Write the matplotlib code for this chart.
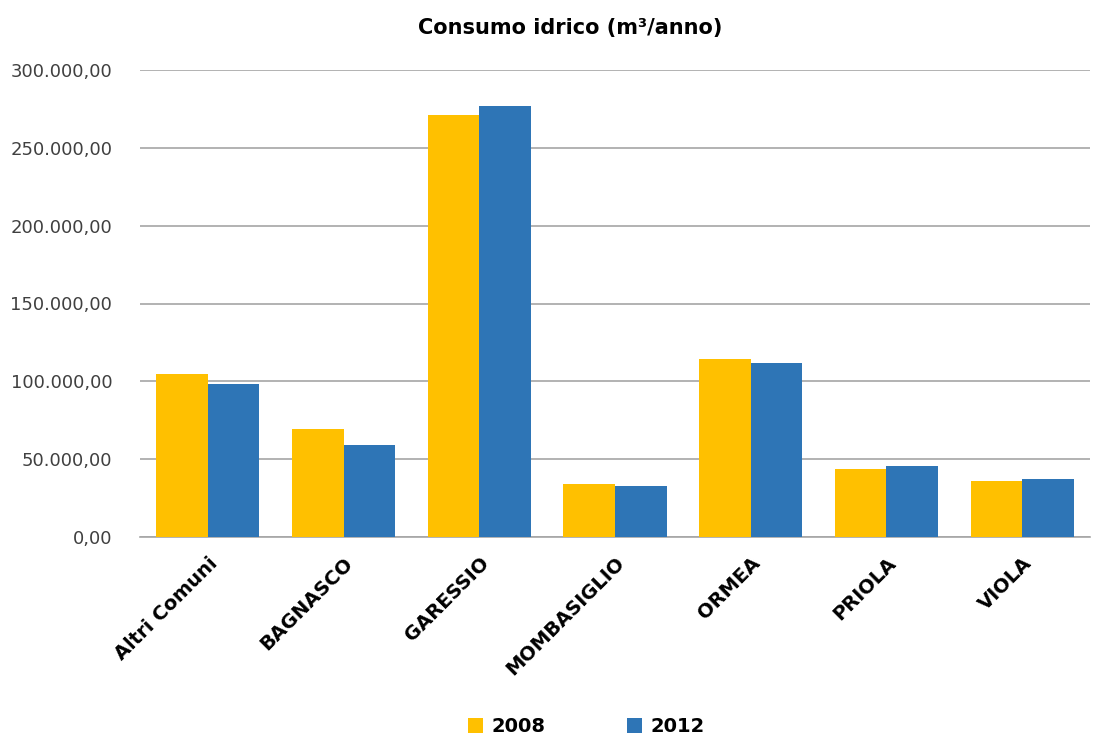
import matplotlib.pyplot as plt
import numpy as np
from matplotlib.ticker import FuncFormatter, MultipleLocator

comuni = ['Altri Comuni', 'BAGNASCO', 'GARESSIO', 'MOMBASIGLIO', 'ORMEA', 'PRIOLA', 'VIOLA']
v2008 = [104500, 69100, 271400, 34000, 114200, 43500, 36100]
v2012 = [98100, 58800, 276600, 32500, 112000, 45900, 37000]

plt.rcParams['font.family'] = ['DejaVu Sans']


def it_fmt(v, pos):
    s = f"{v:,.2f}"
    return s.replace(",", "X").replace(".", ",").replace("X", ".")


fig = plt.figure(figsize=(11.05, 7.37), dpi=100)
ax = fig.add_axes([140 / 1105, 1 - 537 / 737, 950 / 1105, 467 / 737])

x = np.arange(len(comuni))
w = 0.38
ax.bar(x - w / 2, v2008, w, color='#FFC000', label='2008', zorder=3)
ax.bar(x + w / 2, v2012, w, color='#2E75B6', label='2012', zorder=3)

ax.set_xlim(-0.5, len(comuni) - 0.5)
ax.set_ylim(0, 300000)
ax.yaxis.set_major_locator(MultipleLocator(50000))
ax.yaxis.set_major_formatter(FuncFormatter(it_fmt))
ax.grid(axis='y', color='#A6A6A6', linewidth=1.2, zorder=0)

for s in ['top', 'right', 'left']:
    ax.spines[s].set_visible(False)
ax.spines['bottom'].set_color('#A6A6A6')
ax.spines['bottom'].set_linewidth(1.2)

ax.tick_params(axis='y', length=0, pad=20, labelsize=13, labelcolor='#404040')
ax.tick_params(axis='x', length=0, pad=12)
ax.set_xticks(x)
ax.set_xticklabels(comuni, rotation=45, ha='right', rotation_mode='anchor',
                   fontsize=14, fontweight='bold')

fig.text(570 / 1105, 1 - 28 / 737, 'Consumo idrico (m³/anno)', ha='center', va='center',
         fontsize=15, fontweight='bold')

leg = fig.legend(loc='center', bbox_to_anchor=(586 / 1105, 1 - 727 / 737), ncol=2,
                 frameon=False, fontsize=14, handlelength=0.8, handleheight=0.8,
                 columnspacing=4.2, handletextpad=0.4)
for t in leg.get_texts():
    t.set_fontweight('bold')

fig.savefig('out.png', dpi=100)
